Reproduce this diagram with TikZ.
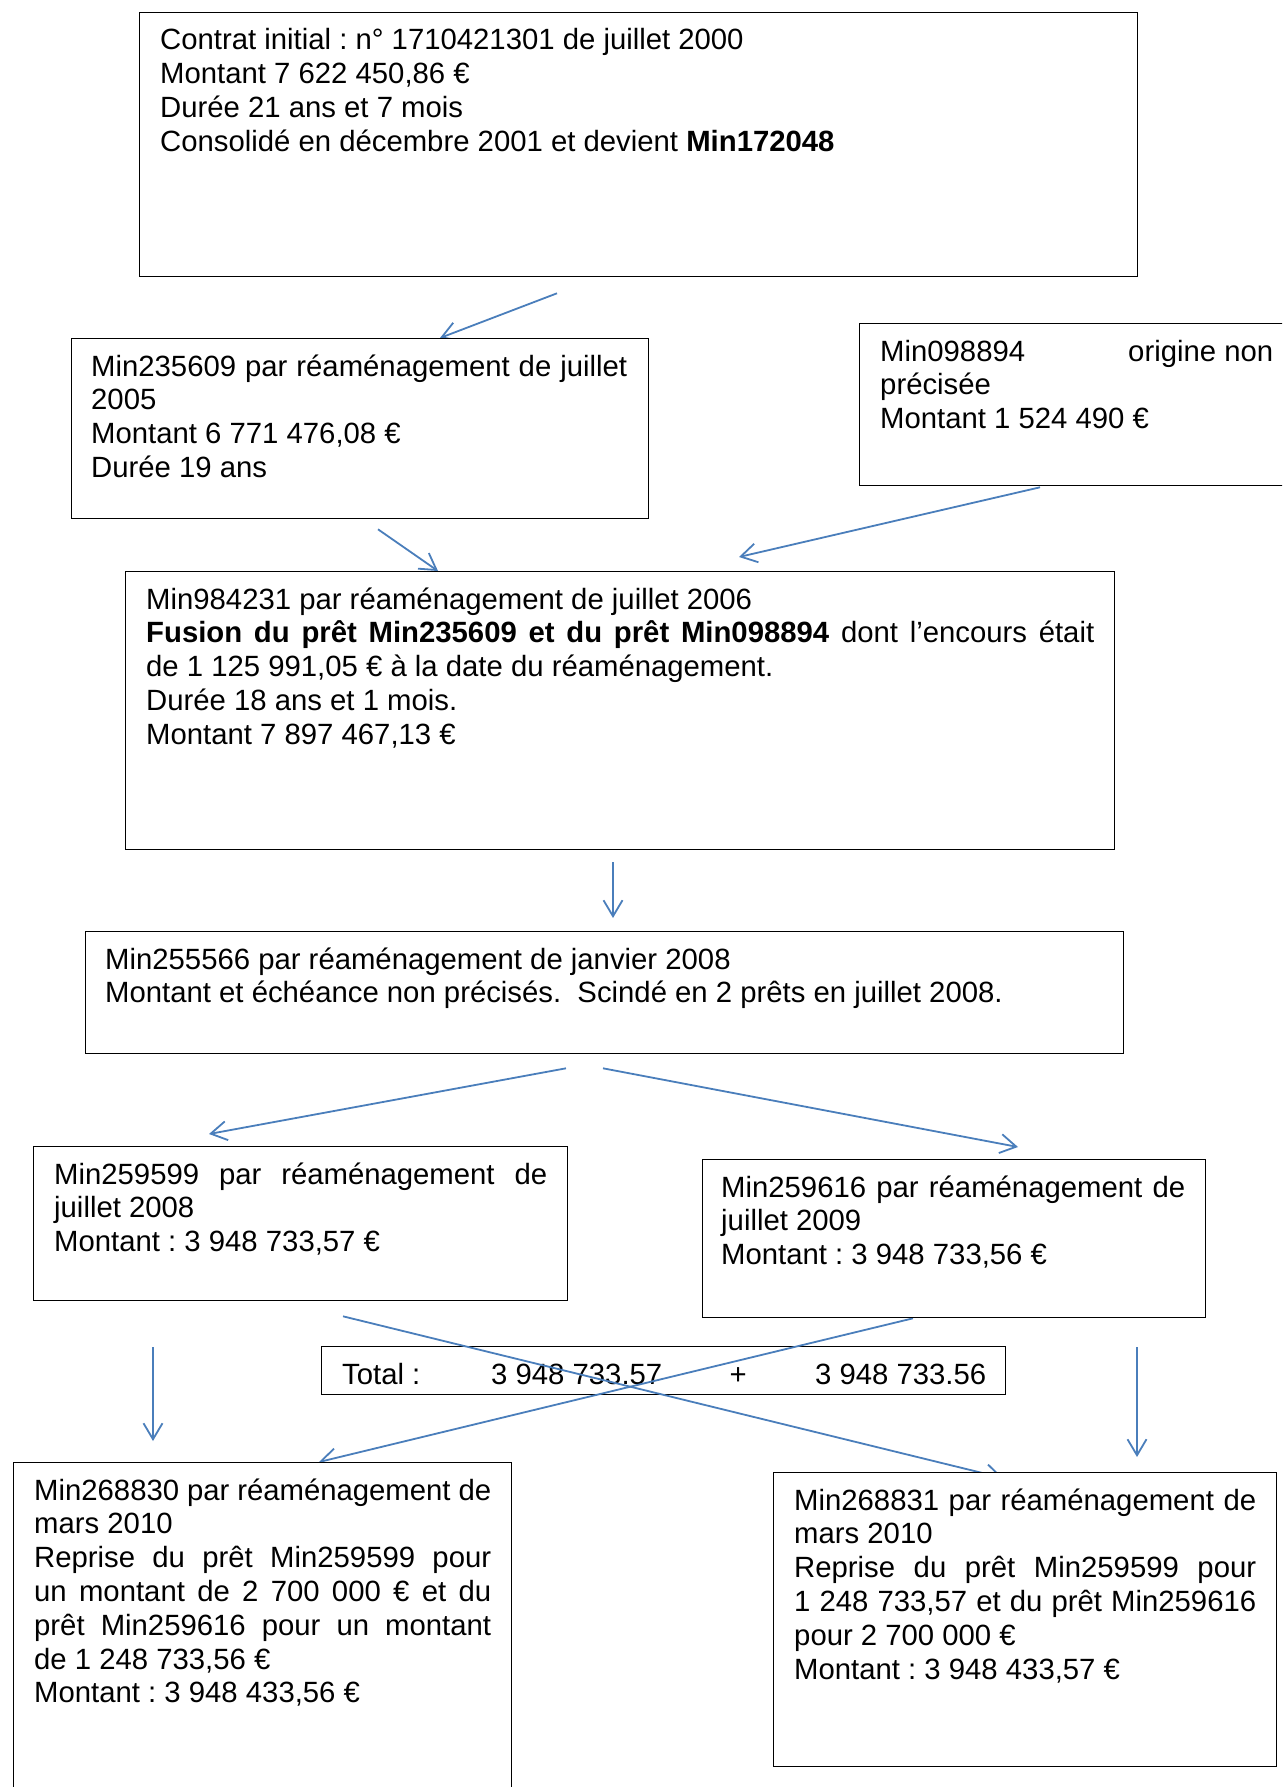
\documentclass[tikz,border=0pt]{standalone}
\usepackage{fontspec}
\setmainfont{Liberation Sans}
\usetikzlibrary{arrows.meta,calc}
\definecolor{linkblue}{RGB}{74,126,187}
\pgfdeclarelayer{bg}
\pgfsetlayers{bg,main}
\begin{document}
\begin{tikzpicture}[x=1pt,y=-1pt,
  box/.style={draw=black, line width=1.3pt, fill=white, inner sep=0pt, anchor=north west},
  totalbox/.style={draw=black, line width=1.3pt, inner sep=0pt, anchor=north west},
  txt/.style={anchor=base west, inner sep=0pt, align=justify,
    font={\fontsize{29.3}{33.8}\selectfont\frenchspacing\tolerance=9999\hbadness=10000\hyphenpenalty=10000}},
  conn/.style={draw=linkblue, line width=1.8pt, -{Straight Barb[length=16pt,width=19pt]}}]
\useasboundingbox (0,0) rectangle (1282,1787);
\clip (0,0) rectangle (1282,1787);

% boxes
\node[box, minimum width=998, minimum height=264] (b1) at (139,12) {};
\node[box, minimum width=577, minimum height=180] (b2) at (71,338) {};
\node[box, minimum width=440, minimum height=162] (b3) at (859,323) {};
\node[box, minimum width=989, minimum height=278] (b4) at (125,571) {};
\node[box, minimum width=1038, minimum height=122] (b5) at (85,931) {};
\node[box, minimum width=534, minimum height=154] (b6) at (33,1146) {};
\node[box, minimum width=503, minimum height=158] (b7) at (702,1159) {};
\node[box, minimum width=498, minimum height=340] (b8) at (13,1462) {};
\node[box, minimum width=503, minimum height=294] (b9) at (773,1472) {};

% texts
\node[txt, text width=957] (t1) at (160,50) {Contrat initial : n° 1710421301 de juillet 2000\par
Montant 7~622~450,86~€\par
Durée 21 ans et 7 mois\par
Consolidé en décembre 2001 et devient \textbf{Min172048}};

\node[txt, text width=536] (t2) at (91,376) {Min235609 par réaménagement de juillet\linebreak
2005\par
Montant 6~771~476,08~€\par
Durée 19 ans};

\node[txt, text width=393] (t3) at (880,361) {Min098894\hfill origine non\linebreak
précisée\par
Montant 1~524~490~€};

\node[txt, text width=948] (t4) at (146,609) {Min984231 par réaménagement de juillet 2006\par
\textbf{Fusion du prêt Min235609 et du prêt Min098894} dont l’encours était\linebreak
de 1~125~991,05~€ à la date du réaménagement.\par
Durée 18 ans et 1 mois.\par
Montant 7~897~467,13~€};

\node[txt, text width=998] (t5) at (105,969) {Min255566 par réaménagement de janvier 2008\par
Montant et échéance non précisés.\ \ Scindé en 2 prêts en juillet 2008.};

\node[txt, text width=493] (t6) at (54,1184) {Min259599 par réaménagement de\linebreak
juillet 2008\par
Montant : 3~948~733,57~€};

\node[txt, text width=464] (t7) at (721,1197) {Min259616 par réaménagement de\linebreak
juillet 2009\par
Montant : 3~948~733,56~€};

\node[txt, text width=457] (t8) at (34,1500) {Min268830 par réaménagement de\linebreak
mars 2010\par
Reprise du prêt Min259599 pour\linebreak
un montant de 2~700~000~€ et du\linebreak
prêt Min259616 pour un montant\linebreak
de 1~248~733,56~€\par
Montant : 3~948~433,56~€};

\node[txt, text width=462] (t9) at (794,1510) {Min268831 par réaménagement de\linebreak
mars 2010\par
Reprise du prêt Min259599 pour\linebreak
1~248~733,57 et du prêt Min259616\linebreak
pour 2~700~000~€\par
Montant : 3~948~433,57~€};

\begin{pgfonlayer}{bg}
\node[totalbox, minimum width=684, minimum height=48] (bt) at (321,1346) {};
\node[txt] (tt) at (342,1384) {\makebox[149pt][l]{Total :}\makebox[238.5pt][l]{3~948~733.57}\makebox[85.5pt][l]{+}3~948~733.56};

\coordinate (a1s) at ($(b1.south west)+(418,16)$);
\draw[conn] (a1s) -- ($(b2.north west)+(369,0)$);
\draw[conn] ($(b2.south west)+(307,10)$) -- ($(b4.north west)+(313,0)$);
\draw[conn] ($(b3.south west)+(181,1)$) -- ($(b4.north west)+(614,-14)$);
\draw[conn] ($(b4.south west)+(488,12)$) -- ($(b5.north west)+(528,-13)$);
\draw[conn] ($(b5.south west)+(481,14)$) -- ($(b6.north west)+(176,-12)$);
\draw[conn] ($(b5.south west)+(518,14)$) -- ($(b7.north west)+(316,-12)$);
\draw[conn] ($(b6.south west)+(310,15)$) -- ($(b9.north west)+(230,6)$);
\draw[conn] ($(b7.south west)+(211,0)$) -- ($(b8.north west)+(306,0)$);
\draw[conn] ($(b6.south west)+(120,46)$) -- ($(b8.north west)+(140,-21)$);
\draw[conn] ($(b7.south west)+(435,29)$) -- ($(b9.north west)+(364,-15)$);
\end{pgfonlayer}
\end{tikzpicture}
\end{document}
